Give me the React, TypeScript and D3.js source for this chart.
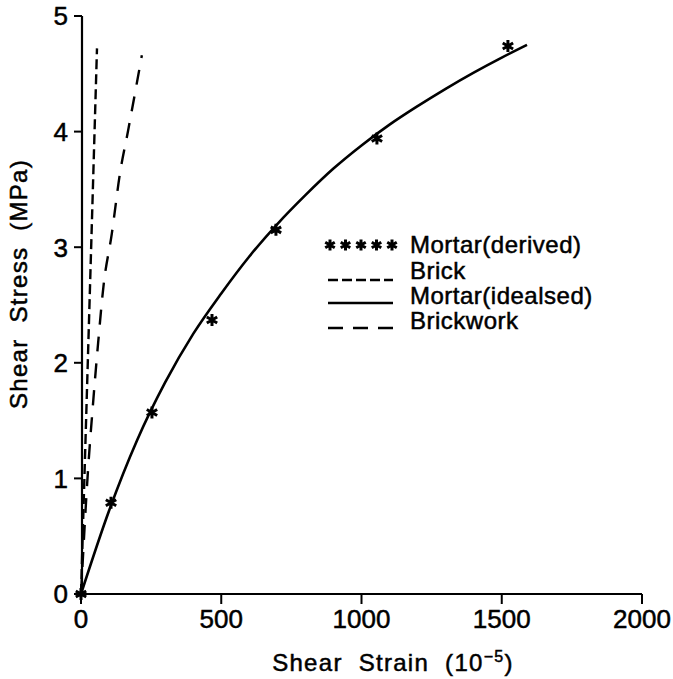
import React from 'react';
import * as d3 from 'd3';

// Mortar (derived) test points
const derivedStrain = [0, 107, 253, 467, 695, 1055, 1522];
const derivedStress = [0, 0.79, 1.57, 2.37, 3.15, 3.94, 4.74];

// Mortar (idealised) curve
const idealStrain = [0, 100, 200, 300, 400, 500, 600, 700, 800, 900, 1000, 1100, 1200, 1300, 1400, 1500, 1590];
const idealStress = [0, 0.72, 1.33, 1.83, 2.25, 2.6, 2.92, 3.2, 3.45, 3.68, 3.88, 4.06, 4.22, 4.37, 4.51, 4.64, 4.75];

// Brick
const brickStrain = [0, 57];
const brickStress = [0, 4.72];

// Brickwork
const brickworkStrain = [0, 25, 42, 61, 80, 110, 139, 168, 217];
const brickworkStress = [0, 1.07, 1.62, 2.17, 2.66, 3.12, 3.64, 4.01, 4.66];

const xTicks = [0, 500, 1000, 1500, 2000];
const yTicks = [0, 1, 2, 3, 4, 5];

const legendLabels = ['Mortar(derived)', 'Brick', 'Mortar(idealsed)', 'Brickwork'];

const W = 673;
const H = 679;
const font = '"Liberation Sans", Arial, sans-serif';

const x = d3.scaleLinear().domain([0, 2000]).range([81, 642]);
const y = d3.scaleLinear().domain([0, 5]).range([594, 16]);

const zip = (a: number[], b: number[]) => a.map((v, i) => [v, b[i]] as [number, number]);

const line = d3.line<[number, number]>()
  .x(d => x(d[0]))
  .y(d => y(d[1]));

const smooth = d3.line<[number, number]>()
  .x(d => x(d[0]))
  .y(d => y(d[1]))
  .curve(d3.curveMonotoneX);

function Star({ cx, cy, r = 6 }: { cx: number; cy: number; r?: number }) {
  const arms = [90, 30, 150].map(a => {
    const t = (a * Math.PI) / 180;
    return `M${cx - r * Math.cos(t)},${cy - r * Math.sin(t)}L${cx + r * Math.cos(t)},${cy + r * Math.sin(t)}`;
  });
  return <path d={arms.join('')} stroke="#000" strokeWidth={3} fill="none" />;
}

export default function App() {
  const legendRows = [253, 279, 304, 329];
  const ink = { stroke: '#000', strokeWidth: 0.5 };
  return (
    <svg width={W} height={H} style={{ position: 'absolute', left: 0, top: 0, background: '#fff' }}
      fontFamily={font}>
      <rect width={W} height={H} fill="#fff" />

      {/* axes */}
      <line x1={x(0)} x2={x(2000)} y1={y(0)} y2={y(0)} stroke="#000" strokeWidth={2.2} />
      <line x1={x(0) + 1} x2={x(0) + 1} y1={y(0)} y2={y(5)} stroke="#000" strokeWidth={2.2} />
      {xTicks.map(t => (
        <g key={'x' + t}>
          <line x1={x(t)} x2={x(t)} y1={y(0)} y2={y(0) + 10} stroke="#000" strokeWidth={2} />
          <text x={x(t)} y={628} textAnchor="middle" fontSize={26} {...ink}>{t}</text>
        </g>
      ))}
      {yTicks.map(t => (
        <g key={'y' + t}>
          <line x1={x(0) + 1} x2={x(0) - 7} y1={y(t)} y2={y(t)} stroke="#000" strokeWidth={2} />
          <text x={68} y={y(t)} dy="0.36em" textAnchor="end" fontSize={26} {...ink}>{t}</text>
        </g>
      ))}

      {/* axis titles */}
      <text x={393} y={671} textAnchor="middle" fontSize={24} letterSpacing={1.3} wordSpacing={8} {...ink}>
        Shear Strain (10<tspan dy={-9} fontSize={16}>−5</tspan><tspan dy={9}>)</tspan>
      </text>
      <text transform="translate(27,284) rotate(-90)" textAnchor="middle" fontSize={24}
        letterSpacing={1.3} wordSpacing={8} {...ink}>Shear Stress (MPa)</text>

      {/* series */}
      <path d={line(zip(brickStrain, brickStress)) || ''} fill="none" stroke="#000"
        strokeWidth={2.4} strokeDasharray="10,5" />
      <path d={smooth(zip(brickworkStrain, brickworkStress)) || ''} fill="none" stroke="#000"
        strokeWidth={2.4} strokeDasharray="15,12" />
      <path d={smooth(zip(idealStrain, idealStress)) || ''} fill="none" stroke="#000" strokeWidth={2.6} />
      {zip(derivedStrain, derivedStress).map((d, i) => (
        <Star key={i} cx={x(d[0])} cy={y(d[1])} />
      ))}

      {/* legend */}
      {[0, 1, 2, 3, 4].map(i => <Star key={'ls' + i} cx={330 + i * 15.5} cy={245} r={5.5} />)}
      <line x1={328} x2={393} y1={280} y2={280} stroke="#000" strokeWidth={2.4} strokeDasharray="10,4" />
      <line x1={328} x2={393} y1={303} y2={303} stroke="#000" strokeWidth={2.4} />
      <line x1={328} x2={393} y1={328} y2={328} stroke="#000" strokeWidth={2.4} strokeDasharray="15,10" />
      {legendLabels.map((l, i) => (
        <text key={l} x={410} y={legendRows[i]} fontSize={24} letterSpacing={0.5} {...ink}>{l}</text>
      ))}
    </svg>
  );
}
